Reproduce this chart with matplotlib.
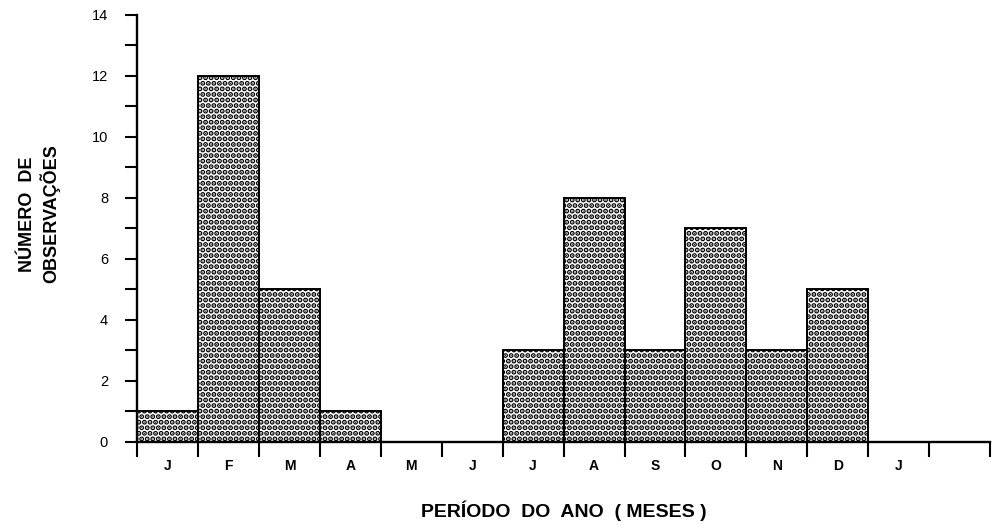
import numpy as np
import matplotlib
matplotlib.use("Agg")
import matplotlib.pyplot as plt

# Monthly observation counts (Jan..Dec)
months = ["J", "F", "M", "A", "M", "J", "J", "A", "S", "O", "N", "D", "J"]
counts = [1, 12, 5, 1, 0, 0, 3, 8, 3, 7, 3, 5]
y_ticks = [0, 2, 4, 6, 8, 10, 12, 14]

plt.rcParams['font.family'] = ['Liberation Sans', 'DejaVu Sans']
plt.rcParams['hatch.linewidth'] = 2.6

fig = plt.figure(figsize=(9.94, 5.28), dpi=100)
ax = fig.add_axes([0.138, 0.163, 0.858, 0.809])

x = np.arange(len(counts))
bars = ax.bar(x, counts, width=1.0, align='edge', color='white',
              edgecolor='black', linewidth=1.4, hatch='...')
for b in bars:
    if b.get_height() == 0:
        b.set_visible(False)

ax.set_xlim(0, 14)
ax.set_ylim(0, 14)

for side in ['top', 'right']:
    ax.spines[side].set_visible(False)
ax.spines['left'].set_linewidth(1.7)
ax.spines['bottom'].set_linewidth(1.7)

# y ticks: every unit, labels on even values
ax.set_yticks(y_ticks)
ax.set_yticklabels([str(v) for v in y_ticks], fontsize=10.5)
ax.set_yticks(np.arange(0, 15), minor=True)
ax.tick_params(axis='y', which='both', direction='out', length=9, width=1.5,
               pad=12)

# x ticks at month boundaries, labels at month centres
ax.set_xticks(np.arange(0, 15))
ax.set_xticklabels([])
ax.tick_params(axis='x', which='major', direction='out', length=11, width=1.5)
ax.set_xticks(np.arange(len(months)) + 0.5, minor=True)
ax.set_xticklabels(months, minor=True, fontsize=10, fontweight='bold')
ax.tick_params(axis='x', which='minor', length=0, pad=12)

ax.set_xlabel("PERÍODO  DO  ANO  ( MESES )", fontsize=14, fontweight='bold',
              labelpad=20)
fig.text(0.04, 0.595, "NÚMERO  DE\nOBSERVAÇÕES", rotation=90, ha='center',
         va='center', fontsize=13, fontweight='bold', linespacing=1.2)

fig.savefig("out.png", dpi=100)
